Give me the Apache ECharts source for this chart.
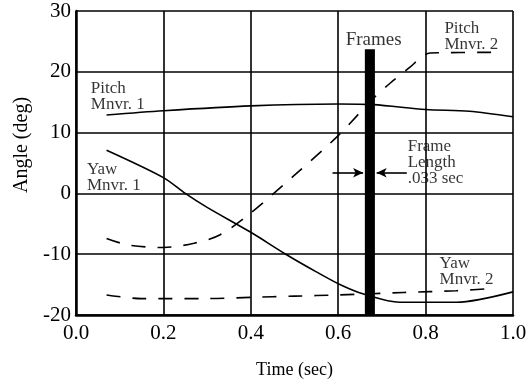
<!DOCTYPE html>
<html>
<head>
<meta charset="utf-8">
<script src="https://cdn.jsdelivr.net/npm/echarts@6/dist/echarts.min.js"></script>
<style>
  html, body { margin: 0; padding: 0; background: #fff; }
  #chart { width: 530px; height: 379px; }
</style>
</head>
<body>
<div id="chart"></div>
<script>
// time (sec), angle (deg)
var pitch1 = [[0.07, 12.9], [0.2, 13.6], [0.4, 14.4], [0.6, 14.7], [0.68, 14.6], [0.8, 13.8], [0.9, 13.5], [1.0, 12.6]];
var yaw1 = [[0.07, 7.1], [0.2, 2.6], [0.25, 0], [0.3, -2.3], [0.4, -6.4], [0.48, -10], [0.55, -12.9], [0.61, -15.2], [0.66, -16.6], [0.74, -17.9], [0.87, -17.9], [1.0, -16.2]];
var pitch2 = [[0.07, -7.4], [0.12, -8.5], [0.2, -8.9], [0.27, -8.2], [0.33, -6.8], [0.4, -3.2], [0.5, 3.0], [0.6, 9.5], [0.68, 15.6], [0.72, 18.2], [0.765, 20.8], [0.79, 22.4], [0.81, 23.1], [0.97, 23.2]];
var yaw2 = [[0.07, -16.7], [0.15, -17.3], [0.3, -17.3], [0.4, -17.1], [0.5, -16.9], [0.6, -16.7], [0.75, -16.3], [0.87, -16.0], [0.96, -15.6]];

// frames bar: x from/to, top value
var framesX = [0.661, 0.684];
var framesTop = 23.7;
// frame length arrows: [start x, end x, y]
var arrows = [[0.587, 0.657, 3.4], [0.757, 0.688, 3.4]];

// annotation texts placed at [x, y]
var notes = [
  { text: 'Frames', x: 0.681, y: 25.2 },
  { text: 'Pitch\nMnvr. 2', x: 0.843, y: 28.4 },
  { text: 'Frame\nLength\n.033 sec', x: 0.759, y: 9.0 },
  { text: 'Yaw\nMnvr. 2', x: 0.832, y: -10.2 },
  { text: 'Pitch\nMnvr. 1', x: 0.034, y: 18.6 },
  { text: 'Yaw\nMnvr. 1', x: 0.025, y: 5.3 }
];

var serif = '"Liberation Serif", "DejaVu Serif", serif';
var ink = '#000';

function lineSeries(data, dashed) {
  return {
    type: 'line',
    data: data,
    smooth: 0.3,
    symbol: 'none',
    silent: true,
    lineStyle: { color: ink, width: 1.6, type: dashed ? [14, 12] : 'solid' },
    z: 3
  };
}

var option = {
  animation: false,
  backgroundColor: '#fff',
  grid: { left: 76, right: 17, top: 11, bottom: 64, containLabel: false, outerBoundsMode: 'none' },
  xAxis: {
    type: 'value',
    min: 0, max: 1, interval: 0.2,
    name: 'Time (sec)',
    nameLocation: 'middle',
    nameGap: 46,
    nameTextStyle: { fontFamily: serif, fontSize: 18, color: ink },
    axisLine: { onZero: false, lineStyle: { color: ink, width: 2.5 } },
    axisTick: { show: false },
    axisLabel: {
      fontFamily: serif, fontSize: 21, color: ink, margin: 8,
      formatter: function (v) { return v.toFixed(1); }
    },
    splitLine: { lineStyle: { color: ink, width: 1.6 } }
  },
  yAxis: {
    type: 'value',
    min: -20, max: 30, interval: 10,
    name: 'Angle (deg)',
    nameLocation: 'middle',
    nameGap: 37,
    nameRotate: 90,
    nameTextStyle: { fontFamily: serif, fontSize: 20, color: ink, padding: [0, 0, 0, 36] },
    axisLine: { show: true, onZero: false, lineStyle: { color: ink, width: 2.5 } },
    axisTick: { show: false },
    axisLabel: { fontFamily: serif, fontSize: 21, color: ink, margin: 5 },
    splitLine: { lineStyle: { color: ink, width: 1.6 } }
  },
  series: [
    lineSeries(pitch1, false),
    lineSeries(yaw1, false),
    lineSeries(pitch2, true),
    lineSeries(yaw2, true),
    {
      type: 'scatter',
      data: notes.map(function (n) { return { value: [n.x, n.y], name: n.text }; }),
      symbolSize: 0,
      silent: true,
      z: 5,
      label: {
        show: true,
        position: 'inside',
        formatter: function (p) { return p.name; },
        fontFamily: serif,
        fontSize: 17,
        lineHeight: 16,
        color: ink,
        align: 'left',
        verticalAlign: 'top'
      },
      markArea: {
        silent: true,
        itemStyle: { color: ink },
        data: [[{ coord: [framesX[0], framesTop] }, { coord: [framesX[1], -20] }]]
      },
      markLine: {
        silent: true,
        symbol: ['none', 'arrow'],
        symbolSize: [7, 10],
        label: { show: false },
        lineStyle: { color: ink, width: 1.6, type: 'solid' },
        data: arrows.map(function (a) {
          return [{ coord: [a[0], a[2]] }, { coord: [a[1], a[2]] }];
        })
      }
    }
  ]
};

// "Frames" is centred above the bar
option.series[4].data[0].label = { align: 'center', verticalAlign: 'middle', fontSize: 19 };

var chart = echarts.init(document.getElementById('chart'));
chart.setOption(option);
</script>
</body>
</html>
